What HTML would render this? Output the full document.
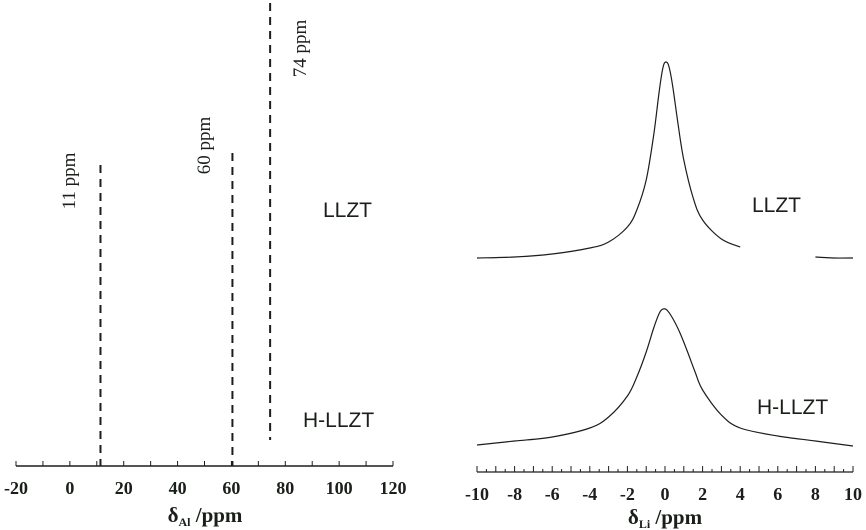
<!DOCTYPE html>
<html><head><meta charset="utf-8"><style>
html,body{margin:0;padding:0;background:#fff;}
svg{display:block;}
.tk{font-family:"Liberation Serif",serif;font-weight:bold;font-size:18px;fill:#1a1f1a;}
.lb{font-family:"Liberation Sans",sans-serif;font-size:21px;fill:#1a1f1a;}
.pp{font-family:"Liberation Serif",serif;font-size:19px;fill:#1a1f1a;}
</style></head><body>
<svg id="c" width="866" height="530" viewBox="0 0 866 530">
<g id="left"></g>
<g id="right"></g>
<text class="lb" x="323" y="217">LLZT</text>
<text class="lb" x="303" y="427">H-LLZT</text>
<text class="lb" x="752" y="212">LLZT</text>
<text class="lb" x="757" y="414">H-LLZT</text>
<text class="tk" x="205" y="522" text-anchor="middle" style="font-size:21px">δ<tspan style="font-size:12px" dy="4">Al</tspan><tspan dy="-4"> /ppm</tspan></text>
<text class="tk" x="665" y="524" text-anchor="middle" style="font-size:21px">δ<tspan style="font-size:12px" dy="4">Li</tspan><tspan dy="-4"> /ppm</tspan></text>
</svg>
<script>
const alTicks=[-20,0,20,40,60,80,100,120];
const alPeaks=[11,60,74];
const alPeakTops=[165,153,3];
const liTicks=[-10,-8,-6,-4,-2,0,2,4,6,8,10];
const llztPpm=[-10,-8,-6,-4,-3,-2,-1.5,-1,-0.6,-0.3,-0.1,0.05,0.2,0.4,0.7,1,1.5,2,3,4];
const llztY=[258,257,254,248,242,227,210,180,135,90,67,62,66,85,125,160,198,220,239,247];
const llztPpm2=[8,9,10];
const llztY2=[257,258,258];
const hPpm=[-10,-8,-6,-4,-3,-2,-1.5,-1,-0.6,-0.3,-0.1,0.1,0.4,0.8,1.2,1.6,2,3,4,6,8,10];
const hY=[445,441,437,428,417,396,377,352,328,313,309,310,318,333,352,372,390,415,428,436,441,446];
const NS='http://www.w3.org/2000/svg';
function mk(p,t,a){const e=document.createElementNS(NS,t);for(const k in a)e.setAttribute(k,a[k]);p.appendChild(e);return e;}
const L=document.getElementById('left'),R=document.getElementById('right');
const ax=v=>16+(v+20)*(377/140);
const lx=v=>477+(v+10)*18.8;
let e=mk(L,'line',{x1:ax(-20),x2:ax(120),y1:466,y2:466,stroke:'#1a1f1a','stroke-width':1.5});

for(let v=-20;v<=120;v+=10){mk(L,'line',{x1:ax(v),x2:ax(v),y1:466,y2:461,stroke:'#1a1f1a','stroke-width':1});}
alTicks.forEach(v=>{const t=mk(L,'text',{x:ax(v),y:494,'text-anchor':'middle',class:'tk'});t.textContent=v;
});
alPeaks.forEach((p,i)=>{const l=mk(L,'line',{x1:ax(p)+1,x2:ax(p)+1,y1:alPeakTops[i],y2:i==2?440:466,stroke:'#1a1f1a','stroke-width':2,'stroke-dasharray':'8,6'});
});
alPeaks.forEach((p,i)=>{const cx=[75,210,306][i],cy=[(150+212)/2,(113+178)/2,(17+80)/2][i];
const t=mk(L,'text',{x:cx,y:cy,'text-anchor':'middle',class:'pp',transform:`rotate(-90 ${cx} ${cy})`});t.textContent=p+' ppm';
});
e=mk(R,'line',{x1:lx(-10),x2:lx(10),y1:472,y2:472,stroke:'#1a1f1a','stroke-width':1.2});

for(let v=-10;v<=10;v+=0.5){const mj=Number.isInteger(v);mk(R,'line',{x1:lx(v),x2:lx(v),y1:472,y2:mj?466:469,stroke:'#1a1f1a','stroke-width':1});}
liTicks.forEach(v=>{const t=mk(R,'text',{x:lx(v),y:500,'text-anchor':'middle',class:'tk'});t.textContent=v;
});
function line(xs,ys,name){
const P=xs.map((x,i)=>[lx(x),ys[i]]);
let d='M'+P[0][0].toFixed(1)+','+P[0][1];
for(let i=0;i<P.length-1;i++){const p0=P[Math.max(0,i-1)],p1=P[i],p2=P[i+1],p3=P[Math.min(P.length-1,i+2)];
const c1=[p1[0]+(p2[0]-p0[0])/6,p1[1]+(p2[1]-p0[1])/6],c2=[p2[0]-(p3[0]-p1[0])/6,p2[1]-(p3[1]-p1[1])/6];
d+=` C${c1[0].toFixed(1)},${c1[1].toFixed(1)} ${c2[0].toFixed(1)},${c2[1].toFixed(1)} ${p2[0].toFixed(1)},${p2[1]}`;}
const p=mk(R,'path',{d:d,fill:'none',stroke:'#1a1f1a','stroke-width':1.2,'stroke-linejoin':'round'});
}
line(llztPpm,llztY,'llzt-spectrum');
line(llztPpm2,llztY2,'llzt-spectrum-tail');
line(hPpm,hY,'h-llzt-spectrum');
</script>
</body></html>
